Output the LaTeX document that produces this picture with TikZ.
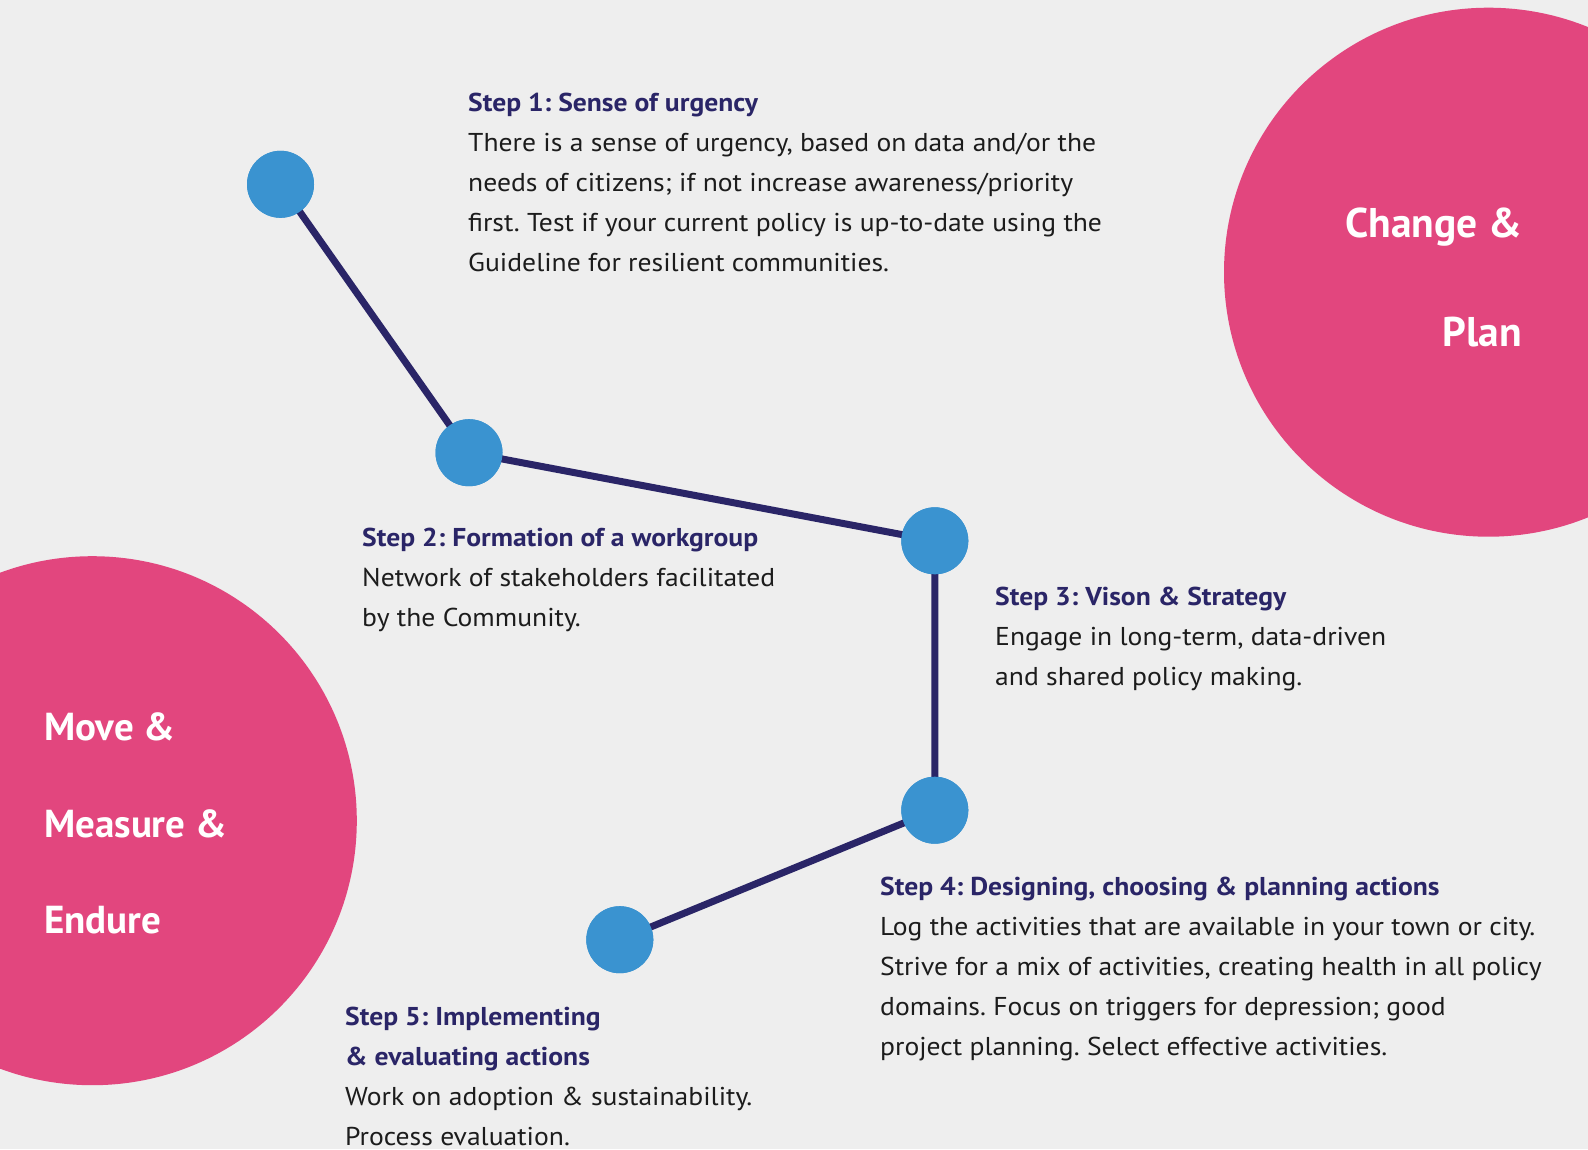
\documentclass[tikz,border=0pt]{standalone}
\usepackage{fontspec}
\setmainfont{PT Sans}[FakeStretch=1.07]
\newfontfamily\phasefont{PT Sans}
\frenchspacing
\definecolor{bgc}{HTML}{EEEEEE}
\definecolor{pinkc}{HTML}{E2467E}
\definecolor{dotc}{HTML}{3A93D0}
\definecolor{navyc}{HTML}{2A2567}
\definecolor{inkc}{HTML}{1C1C1C}
\newcommand\steptitle[1]{\textcolor{navyc}{\bfseries #1}}
\newcommand\firstline{\rule{0pt}{30pt}}

\begin{document}
\begin{tikzpicture}[x=1pt,y=-1pt,
  bigdisc/.style={circle,fill=pinkc,minimum size=529pt,inner sep=0pt},
  dot/.style={circle,fill=dotc,minimum size=67pt,inner sep=0pt},
  link/.style={draw=navyc,line width=7pt,line join=round},
  steptext/.style={anchor=north west,inner sep=0pt,align=left,text=inkc,
    font=\fontsize{25.8}{40}\selectfont},
  phase/.style={text=white,inner sep=0pt,font=\phasefont\fontsize{39}{48}\selectfont\bfseries},
  bigphase/.style={phase,font=\phasefont\fontsize{41.5}{48}\selectfont\bfseries}
]
\useasboundingbox (0,0) rectangle (1588,1149);
\clip (0,0) rectangle (1588,1149);
\fill[bgc] (0,0) rectangle (1588,1149);

% phase discs
\node[bigdisc] (cp) at (1488.5,272.2) {};
\node[bigdisc] (mme) at (92.3,820.7) {};
\node[bigphase,anchor=base east] (chg) at (1522,237.6) {Change \&};
\node[bigphase,anchor=base east] (pln) at (1522,346) {Plan};
\node[phase,anchor=base west] (mov) at (44,740) {Move \&};
\node[phase,anchor=base west] (mea) at (44,837) {Measure \&};
\node[phase,anchor=base west] (end) at (44,933) {Endure};

% step dots and the path linking them
\node[dot] (d1) at (280.5,184.3) {};
\node[dot] (d2) at (469,452.7) {};
\node[dot] (d3) at (934.8,540.8) {};
\node[dot] (d4) at (934.8,810.2) {};
\node[dot] (d5) at (619.8,939.7) {};
\draw[link] (d1.center) -- (d2.center) -- (d3.center) -- (d4.center) -- (d5.center);
\foreach \d in {d1,d2,d3,d4,d5} \fill[dotc] (\d) circle (33.5pt);

% step descriptions
\node[steptext] (s1) at (468,81.7) {\firstline\steptitle{Step 1: Sense of urgency}\\
There is a sense of urgency, based on data and/or the\\
needs of citizens; if not increase awareness/priority\\
first. Test if your current policy is up-to-date using the\\
Guideline for resilient communities.};

\node[steptext] (s2) at (362,516.7) {\firstline\steptitle{Step 2: Formation of a workgroup}\\
Network of stakeholders facilitated\\
by the Community.};

\node[steptext] (s3) at (995,575) {\firstline\steptitle{Step 3: Vison \& Strategy}\\
Engage in long-term, data-driven\\
and shared policy making.};

\node[steptext] (s4) at (880,865) {\firstline\steptitle{Step 4: Designing, choosing \& planning actions}\\
Log the activities that are available in your town or city.\\
Strive for a mix of activities, creating health in all policy\\
domains. Focus on triggers for depression; good\\
project planning. Select effective activities.};

\node[steptext] (s5) at (345,995.4) {\firstline\steptitle{Step 5: Implementing}\\
\steptitle{\& evaluating actions}\\
Work on adoption \& sustainability.\\
Process evaluation.};
\end{tikzpicture}
\end{document}
